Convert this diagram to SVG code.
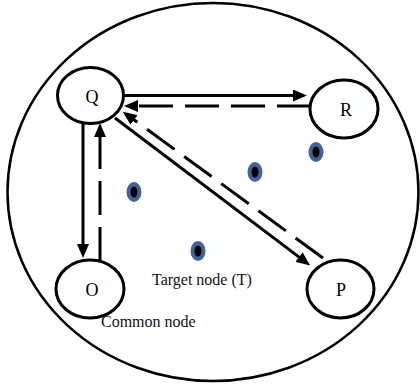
<svg xmlns="http://www.w3.org/2000/svg" width="420" height="387" viewBox="0 0 420 387">
<style>
.node{fill:#fff;stroke:#000;stroke-width:3}
.lbl{font-family:"Liberation Serif","Times New Roman",serif;font-size:18px;fill:#000;text-anchor:middle}
.txt{font-family:"Liberation Serif","Times New Roman",serif;font-size:16px;fill:#111}
.solid{stroke:#000;stroke-width:3;fill:none}
.dash{stroke:#000;stroke-width:3;fill:none;stroke-dasharray:34 12}
.dot-o{fill:#3f6598}
.dot-i{fill:#000}
</style>
<defs>
<marker id="ah" viewBox="0 0 14 12" refX="1" refY="6" markerWidth="14" markerHeight="12" markerUnits="userSpaceOnUse" orient="auto">
<path d="M0,0 L14,6 L0,12 z" fill="#000"/>
</marker>
</defs>
<rect width="420" height="387" fill="#fff"/>
<ellipse id="boundary" cx="213" cy="192" rx="205.5" ry="189" fill="none" stroke="#000" stroke-width="2.5"/>
<g id="connectors">
<path class="solid" d="M124,95.5 L294,95.5" marker-end="url(#ah)"/>
<path class="dash" d="M311,106 L137,106" marker-end="url(#ah)"/>
<path class="solid" d="M83,123 L83,245" marker-end="url(#ah)"/>
<path class="dash" d="M100,261 L100,136" marker-end="url(#ah)"/>
<path class="solid" d="M115,118 L299.8,257.6" marker-end="url(#ah)"/>
<path class="dash" d="M323,258 L133.3,119.3" marker-end="url(#ah)"/>
</g>
<g id="node-Q"><ellipse class="node" cx="90.5" cy="95.5" rx="33" ry="28"/><text class="lbl" x="92" y="103">Q</text></g>
<g id="node-R"><ellipse class="node" cx="344" cy="109" rx="34" ry="29"/><text class="lbl" x="346" y="116">R</text></g>
<g id="node-O"><ellipse class="node" cx="90" cy="289" rx="34" ry="29"/><text class="lbl" x="92" y="296">O</text></g>
<g id="node-P"><ellipse class="node" cx="340.5" cy="289" rx="33.5" ry="29"/><text class="lbl" x="341" y="296">P</text></g>
<g id="dots">
<g><ellipse class="dot-o" cx="134" cy="192" rx="7.5" ry="10"/><ellipse class="dot-i" cx="134" cy="192" rx="3.5" ry="5.5"/></g>
<g><ellipse class="dot-o" cx="255" cy="172" rx="7.5" ry="10"/><ellipse class="dot-i" cx="255" cy="172" rx="3.5" ry="5.5"/></g>
<g><ellipse class="dot-o" cx="316" cy="152" rx="7.5" ry="10"/><ellipse class="dot-i" cx="316" cy="152" rx="3.5" ry="5.5"/></g>
<g><ellipse class="dot-o" cx="198" cy="251" rx="7.5" ry="10"/><ellipse class="dot-i" cx="198" cy="251" rx="3.5" ry="5.5"/></g>
</g>
<text class="txt" x="152" y="285">Target node (T)</text>
<text class="txt" x="101" y="327">Common node</text>
</svg>
